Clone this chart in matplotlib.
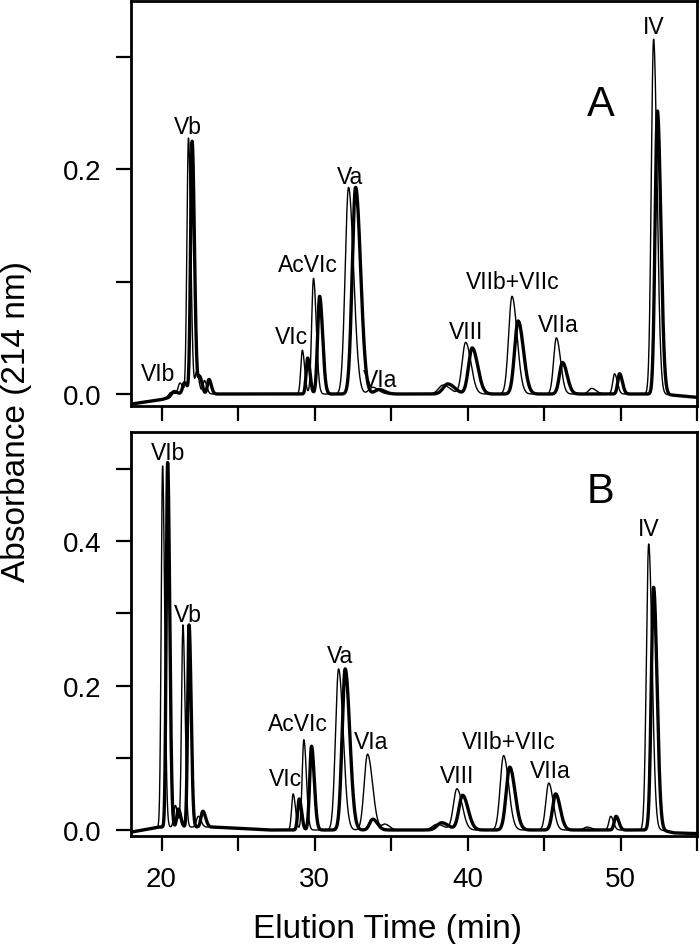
import numpy as np
import matplotlib
matplotlib.use('Agg')
import matplotlib.pyplot as plt
from matplotlib.ticker import MultipleLocator, FormatStrFormatter

plt.rcParams['font.family'] = ['Liberation Sans', 'DejaVu Sans']

# peak tables: retention time (min), height (AU), width (min)
# panel A, thin trace
a_thin_t = [20.6, 21.2, 21.76, 22.3, 22.8, 29.2, 29.93, 32.22, 33.8, 38.4, 39.87, 42.9, 45.8, 48.1, 49.6, 52.15]
a_thin_h = [0.004, 0.010, 0.228, 0.020, 0.012, 0.039, 0.103, 0.184, 0.006, 0.008, 0.046, 0.087, 0.050, 0.005, 0.018, 0.316]
a_thin_w = [0.15, 0.12, 0.10, 0.10, 0.10, 0.10, 0.12, 0.22, 0.25, 0.30, 0.23, 0.22, 0.18, 0.20, 0.12, 0.15]
# panel A, thick trace
a_thick_t = [20.8, 21.5, 22.0, 22.5, 23.1, 29.55, 30.33, 32.68, 34.2, 38.7, 40.3, 43.3, 46.2, 49.93, 52.4]
a_thick_h = [0.004, 0.010, 0.225, 0.015, 0.013, 0.032, 0.087, 0.184, 0.004, 0.009, 0.041, 0.065, 0.028, 0.018, 0.252]
a_thick_w = [0.15, 0.12, 0.10, 0.10, 0.10, 0.10, 0.13, 0.22, 0.25, 0.30, 0.24, 0.23, 0.20, 0.12, 0.15]
a_base_t = [18, 20, 21.3, 52.6, 55]
a_base_v = [-0.009, -0.005, 0.0, 0.0, -0.003]

# panel B, thin trace
b_thin_t = [20.07, 20.9, 21.4, 22.4, 28.6, 29.3, 31.57, 33.46, 34.6, 38.0, 39.3, 42.35, 45.3, 47.8, 49.35, 51.83]
b_thin_h = [0.50, 0.030, 0.28, 0.015, 0.050, 0.125, 0.223, 0.105, 0.008, 0.008, 0.057, 0.103, 0.065, 0.004, 0.019, 0.396]
b_thin_w = [0.09, 0.10, 0.09, 0.12, 0.10, 0.11, 0.20, 0.22, 0.20, 0.30, 0.23, 0.22, 0.19, 0.20, 0.12, 0.15]
# panel B, thick trace
b_thick_t = [20.4, 21.1, 21.8, 22.7, 29.0, 29.8, 32.0, 33.8, 38.3, 39.67, 42.75, 45.75, 49.7, 52.15]
b_thick_h = [0.505, 0.025, 0.28, 0.022, 0.043, 0.116, 0.223, 0.015, 0.010, 0.048, 0.087, 0.050, 0.019, 0.336]
b_thick_w = [0.09, 0.10, 0.09, 0.12, 0.10, 0.12, 0.20, 0.20, 0.30, 0.24, 0.23, 0.20, 0.12, 0.15]
b_base_t = [18, 19.8, 23.5, 27, 52.6, 53.5, 55]
b_base_v = [-0.003, 0.004, 0.004, 0.0, 0.0, -0.004, -0.005]

# peak labels
a_labels = ['VIb', 'Vb', 'VIc', 'AcVIc', 'Va', 'VIa', 'VIII', 'VIIb+VIIc', 'VIIa', 'IV']
a_lab_x = [19.8, 21.7, 28.5, 29.55, 32.3, 34.3, 39.9, 42.95, 45.9, 52.15]
a_lab_y = [0.018, 0.238, 0.051, 0.115, 0.194, 0.013, 0.056, 0.100, 0.062, 0.327]
b_labels = ['VIb', 'Vb', 'VIc', 'AcVIc', 'Va', 'VIa', 'VIII', 'VIIb+VIIc', 'VIIa', 'IV']
b_lab_x = [20.4, 21.7, 28.1, 28.9, 31.65, 33.7, 39.3, 42.7, 45.4, 51.8]
b_lab_y = [0.522, 0.299, 0.071, 0.147, 0.241, 0.123, 0.076, 0.123, 0.083, 0.417]

TAIL = 1.5  # right side of each peak is wider (tailing)


def trace(x, times, heights, widths, base_t, base_v):
    y = np.interp(x, base_t, base_v)
    for t, h, w in zip(times, heights, widths):
        s = np.where(x < t, w, w * TAIL)
        y = y + h * np.exp(-0.5 * ((x - t) / s) ** 2)
    return y


def style_axes(ax, ymax, ymin, show_xlabels):
    ax.set_xlim(18, 55)
    ax.set_ylim(ymin, ymax)
    ax.xaxis.set_major_locator(MultipleLocator(10))
    ax.xaxis.set_minor_locator(MultipleLocator(5))
    ax.yaxis.set_major_locator(MultipleLocator(0.2))
    ax.yaxis.set_minor_locator(MultipleLocator(0.1))
    ax.yaxis.set_major_formatter(FormatStrFormatter('%.1f'))
    ax.tick_params(which='both', direction='out', length=10.5, width=1.6,
                   labelsize=20, pad=11)
    if not show_xlabels:
        ax.tick_params(axis='x', labelbottom=False)
    for sp in ax.spines.values():
        sp.set_linewidth(2.0)


fig = plt.figure(figsize=(7, 9.45), dpi=100)
ax1 = fig.add_axes([0.187, 0.5693, 0.809, 0.4286])
ax2 = fig.add_axes([0.187, 0.1143, 0.809, 0.4275])

x = np.linspace(18, 55, 4000)

ax1.plot(x, trace(x, a_thin_t, a_thin_h, a_thin_w, a_base_t, a_base_v), color='black', lw=1.0)
ax1.plot(x, trace(x, a_thick_t, a_thick_h, a_thick_w, a_base_t, a_base_v), color='black', lw=2.4)
ax2.plot(x, trace(x, b_thin_t, b_thin_h, b_thin_w, b_base_t, b_base_v), color='black', lw=1.0)
ax2.plot(x, trace(x, b_thick_t, b_thick_h, b_thick_w, b_base_t, b_base_v), color='black', lw=2.4)

for lab, lx, ly in zip(a_labels, a_lab_x, a_lab_y):
    ax1.text(lx, ly, lab, ha='center', va='center', fontsize=16.5)
for lab, lx, ly in zip(b_labels, b_lab_x, b_lab_y):
    ax2.text(lx, ly, lab, ha='center', va='center', fontsize=16.5)

ax1.text(48.7, 0.258, 'A', ha='center', va='center', fontsize=30)
ax2.text(48.7, 0.469, 'B', ha='center', va='center', fontsize=30)

style_axes(ax1, 0.35, -0.0107, False)
ax1.set_yticks([0.0, 0.2])
style_axes(ax2, 0.551, -0.0083, True)

fig.text(0.023, 0.554, 'Absorbance (214 nm)', rotation=90, ha='center', va='center', fontsize=24)
fig.text(0.553, 0.0074, 'Elution Time (min)', ha='center', va='baseline', fontsize=24)

fig.savefig('out.png', dpi=100)
